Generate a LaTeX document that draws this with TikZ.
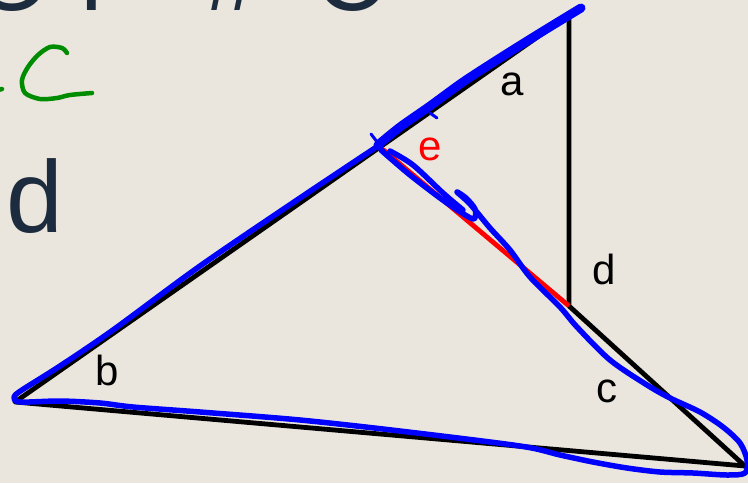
\documentclass[tikz,border=0pt]{standalone}
\usepackage{fontspec}
\setmainfont{Liberation Sans}
\definecolor{slidebg}{RGB}{234,230,221}
\definecolor{slideink}{RGB}{28,44,62}
\definecolor{penblue}{RGB}{0,0,255}
\definecolor{pengreen}{RGB}{0,140,0}
\definecolor{segred}{RGB}{255,0,0}
\tikzset{
  seg/.style={draw=#1, line width=4.8pt, line join=round},
  lbl/.style={font=\fontsize{42}{44}\selectfont, inner sep=0pt},
  ink/.style={draw=#1, line width=5.5pt, line cap=round, line join=round},
}

\begin{document}
\begin{tikzpicture}[x=1pt, y=-1pt]
\fill[slidebg] (0,0) rectangle (748,483);
\useasboundingbox (0,0) rectangle (748,483);
\clip (0,0) rectangle (748,483);

%% == SLIDE TEXT (title cut off at the top) ===================================
\node[anchor=base west, inner sep=0pt, text=slideink,
      font=\fontsize{100}{110}\selectfont] (title) at (-27,10)
      {O\hspace{30pt}r\hspace{91pt}\#\hspace{54pt}C};
\node[anchor=base west, inner sep=0pt, text=slideink,
      font=\fontsize{102}{110}\selectfont] (bigd) at (6,232) {d};

%% == TRIANGLE ================================================================
\coordinate (B) at ( 15,402);
\coordinate (T) at (569, 15);
\coordinate (D) at (569,306);
\coordinate (C) at (745,466);
\coordinate (V) at (381,148);

\draw[seg=black] (B) -- (T) -- (D) -- (C) -- cycle;
\draw[seg=segred] (V) -- (D);

% side labels
\node[lbl]              (la) at (512, 84) {a};
\node[lbl, text=segred] (le) at (430,149) {e};
\node[lbl]              (ld) at (604,269) {d};
\node[lbl]              (lb) at (107,370) {b};
\node[lbl]              (lc) at (607,391) {c};

%% == PEN STROKES =============================================================
% green c
\draw[ink=pengreen, line width=4.5pt]
  plot[smooth, tension=0.5] coordinates {
  (67,53)(62,48)(50,47)(38,55)(28,67)(22,80)(25,93)(40,99)(57,98)(70,95)(92,93)};
\draw[ink=pengreen, line width=4.5pt] (-2,90) -- (2,89);

% top side, gone over heavily
\draw[ink=penblue, line width=9pt]
  plot[smooth, tension=0.5] coordinates {
  (581,8)(540,33)(500,58)(463,82)(430,106)(400,127)(378,145)};
\draw[ink=penblue, line width=3pt] (371,134) -- (384,151);
\draw[ink=penblue, line width=3pt] (430,113) -- (437,118);

% loop round the triangle
\draw[ink=penblue]
  plot[smooth, tension=0.5] coordinates {
  (378,146)(300,198)(200,266)(113,330)(60,366)(22,390)(14,397)(20,402)
  (60,401)(100,403)(133,407)(200,412)(300,420)(400,431)(520,446)(560,455)
  (593,462)(627,468)(660,472)(693,473)(727,475)(745,473)(747,460)(740,443)
  (723,427)(700,412)(670,398)(647,385)(610,360)(577,327)(560,307)(530,277)
  (510,250)(490,228)(470,204)(457,192)(466,198)(475,209)(474,219)(462,213)
  (440,198)(410,175)(390,158)(381,150)};
\draw[ink=penblue]
  plot[smooth, tension=0.5] coordinates {
  (390,151)(413,165)(443,193)(463,210)};
\end{tikzpicture}
\end{document}
